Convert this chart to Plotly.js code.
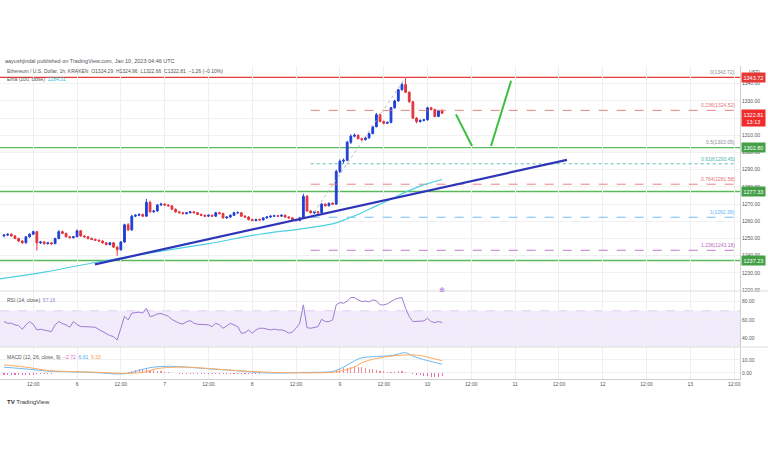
<!DOCTYPE html>
<html><head><meta charset="utf-8">
<script src="https://cdn.plot.ly/plotly-3.0.1.min.js"></script>
<style>html,body{margin:0;padding:0;background:#fff}#chart{width:768px;height:463px}</style>
</head><body><div id="chart"></div>
<script>
// ---- data (hours counted from 2023-01-05 00:00 UTC) ----
const FIRST_HOUR = 4; // first hourly candle: Jan 5 04:00
const openP = [1251.5,1252.0,1252.5,1251.5,1250.0,1248.5,1247.5,1251.0,1252.5,1254.0,
1247.5,1248.0,1247.0,1247.5,1247.0,1250.0,1254.0,1253.0,1251.0,1250.5,
1251.0,1254.5,1251.5,1251.0,1250.0,1249.5,1249.0,1248.5,1247.5,1246.5,
1247.5,1245.0,1243.5,1248.0,1258.0,1255.0,1263.0,1263.5,1264.0,1263.0,
1271.0,1265.5,1266.0,1269.5,1270.0,1269.5,1269.0,1267.0,1265.5,1265.0,
1264.5,1265.0,1265.5,1265.0,1264.0,1263.5,1263.0,1263.5,1263.0,1265.0,
1264.5,1262.0,1262.5,1263.5,1265.0,1265.0,1263.0,1262.5,1261.0,1260.5,
1261.0,1260.8,1262.0,1262.5,1263.0,1263.2,1263.0,1263.5,1262.5,1262.0,
1261.0,1260.5,1262.0,1274.5,1266.0,1265.0,1265.5,1265.0,1270.0,1269.0,
1270.5,1270.0,1289.0,1295.0,1295.5,1306.0,1309.5,1310.0,1308.0,1307.5,
1308.5,1311.0,1315.0,1322.0,1318.0,1317.0,1317.5,1326.0,1330.0,1336.5,
1339.5,1335.0,1329.5,1320.0,1318.0,1318.7,1319.0,1326.0,1325.0,1321.0,1324.29];
const highP = [1252.6,1253.0,1253.1,1252.0,1250.5,1249.2,1251.4,1253.0,1254.6,1254.4,
1248.6,1248.4,1248.0,1248.0,1250.5,1254.8,1254.6,1253.4,1251.6,1251.5,
1255.2,1255.0,1252.0,1251.4,1250.6,1250.0,1249.5,1249.0,1248.0,1248.0,
1248.0,1245.5,1248.5,1258.6,1259.0,1263.8,1264.2,1264.6,1264.5,1273.0,
1272.0,1266.6,1270.0,1270.8,1270.5,1270.0,1269.4,1267.5,1266.0,1265.5,
1265.4,1266.0,1266.0,1265.4,1264.5,1264.0,1264.0,1264.0,1265.5,1265.6,
1265.0,1263.0,1264.0,1265.6,1265.8,1265.4,1263.6,1263.0,1261.5,1261.5,
1261.6,1262.4,1263.0,1263.5,1263.8,1263.6,1264.0,1264.0,1263.0,1262.4,
1261.5,1262.4,1276.0,1275.4,1266.5,1266.0,1266.0,1270.6,1270.5,1271.0,
1271.0,1290.0,1296.0,1296.5,1306.8,1310.5,1311.0,1310.6,1308.6,1309.0,
1311.6,1315.6,1323.0,1322.6,1318.6,1318.0,1326.6,1330.6,1337.0,1340.5,
1343.72,1335.6,1330.0,1320.6,1319.2,1319.6,1326.6,1326.5,1325.5,1324.8,1324.96];
const lowP = [1250.8,1251.4,1251.0,1249.6,1248.0,1247.0,1247.1,1250.5,1252.0,1243.0,
1246.8,1246.5,1246.6,1246.4,1246.8,1249.6,1252.5,1250.6,1250.0,1250.0,
1250.8,1251.0,1250.6,1249.5,1249.0,1248.6,1248.0,1247.0,1246.0,1246.0,
1244.6,1240.0,1243.0,1247.6,1254.5,1254.6,1262.4,1263.0,1262.6,1262.8,
1265.0,1265.0,1265.6,1269.0,1269.0,1268.6,1266.6,1265.0,1264.6,1264.0,
1264.0,1264.6,1264.6,1263.6,1263.0,1262.6,1262.6,1262.5,1262.6,1264.0,
1261.6,1261.5,1262.0,1263.0,1264.4,1262.6,1262.0,1260.6,1260.0,1260.0,
1260.2,1260.5,1261.5,1262.0,1262.6,1262.6,1262.6,1262.0,1261.6,1260.6,
1259.8,1260.0,1261.6,1265.5,1264.5,1264.2,1264.5,1264.8,1268.6,1268.8,
1269.5,1269.6,1288.0,1293.6,1295.0,1305.0,1308.8,1307.6,1306.8,1307.0,
1308.0,1310.6,1314.6,1317.6,1316.4,1316.6,1317.0,1325.5,1329.5,1336.0,
1334.6,1329.0,1319.5,1317.0,1317.4,1318.0,1318.6,1324.4,1320.5,1320.6,1322.66];
const closeP = [1252.0,1252.5,1251.5,1250.0,1248.5,1247.5,1251.0,1252.5,1254.0,1247.5,
1248.0,1247.0,1247.5,1247.0,1250.0,1254.0,1253.0,1251.0,1250.5,1251.0,
1254.5,1251.5,1251.0,1250.0,1249.5,1249.0,1248.5,1247.5,1246.5,1247.5,
1245.0,1243.5,1248.0,1258.0,1255.0,1263.0,1263.5,1264.0,1263.0,1271.0,
1265.5,1266.0,1269.5,1270.0,1269.5,1269.0,1267.0,1265.5,1265.0,1264.5,
1265.0,1265.5,1265.0,1264.0,1263.5,1263.0,1263.5,1263.0,1265.0,1264.5,
1262.0,1262.5,1263.5,1265.0,1265.0,1263.0,1262.5,1261.0,1260.5,1261.0,
1260.8,1262.0,1262.5,1263.0,1263.2,1263.0,1263.5,1262.5,1262.0,1261.0,
1260.5,1262.0,1274.5,1266.0,1265.0,1265.5,1265.0,1270.0,1269.0,1270.5,
1270.0,1289.0,1295.0,1295.5,1306.0,1309.5,1310.0,1308.0,1307.5,1308.5,
1311.0,1315.0,1322.0,1318.0,1317.0,1317.5,1326.0,1330.0,1336.5,1339.5,
1335.0,1329.5,1320.0,1318.0,1318.7,1319.0,1326.0,1325.0,1321.0,1324.29,1322.81];

const rsiVals = [58.2,56.4,56.4,54.6,53.8,49.8,54.6,58.2,55.3,49.1,
49.8,49.1,48.4,47.3,54.6,58.2,56.0,54.6,52.0,58.2,
55.0,52.7,52.7,52.7,52.0,52.0,49.5,47.3,45.5,43.0,
41.8,38.2,50.9,64.0,60.0,67.3,68.0,68.5,67.5,72.7,
63.6,64.5,66.5,67.0,65.5,64.0,60.5,58.2,56.4,55.5,
58.0,59.3,56.4,55.3,55.0,54.6,54.6,52.7,56.4,54.6,
50.9,53.5,56.4,54.6,52.7,45.5,46.0,49.1,45.5,49.1,
50.9,50.9,50.0,49.1,50.0,49.1,49.1,48.0,45.5,47.0,
50.9,56.4,76.4,51.5,50.9,51.6,52.7,60.7,58.2,58.2,
60.0,76.4,78.9,78.2,80.5,84.4,84.4,81.8,80.0,80.5,
79.6,81.8,80.9,76.4,76.4,77.5,80.2,82.4,83.6,84.4,
72.7,63.6,58.2,58.2,58.9,58.9,61.8,58.2,57.1,58.2,57.16];

const macdHist = [-1.8,-1.9,-1.9,-1.8,-1.7,-1.7,-1.6,-1.5,-1.4,-1.3,-1.2,-1.0,-0.8,-0.6,-0.5,-0.4,
-0.3,-0.3,-0.2,-0.2,-0.1,-0.1,-0.1,-0.2,-0.2,-0.3,-0.3,-0.4,-0.5,-0.6,-0.7,-0.9,-0.8,-0.4,
0.3,1.2,2.0,2.6,3.0,2.6,2.4,2.1,1.7,1.3,0.9,0.6,
-0.2,-0.4,-0.6,-0.7,-0.8,-0.8,-0.8,-0.9,-0.9,-1.0,-1.0,-0.9,-0.8,-0.8,-0.9,-0.9,-0.8,-0.8,
-0.9,-1.0,-1.0,-0.9,-0.8,-0.7,-0.6,-0.5,-0.5,-0.4,-0.4,-0.3,-0.3,-0.3,-0.2,-0.2,-0.2,-0.1,
0.4,0.8,0.5,0.4,0.3,0.4,0.4,0.4,0.5,
1.8,2.8,3.4,4.0,4.8,5.2,4.8,4.4,3.8,3.2,2.6,2.0,1.5,1.2,1.0,0.9,1.0,1.1,1.2,
0.6,0.0,-0.8,-1.5,-2.0,-2.4,-2.6,-2.9,-3.1,-3.0,-2.72];

const macdHours = [4,11,16,23,30,35,38,42,45,49,54,59,65,70,75,81,86,90,94,97,100,102,106,110,113,114,116,118,120,124];
const macdVals  = [4.4,2.7,1.3,0.7,0.0,-0.9,-0.4,2.7,4.4,5.1,4.4,3.3,2.2,1.1,0.0,-0.2,0.3,0.4,1.1,4.4,9.3,11.6,12.7,13.3,15.3,15.6,13.0,11.0,9.5,6.61];
const signalHours = [4,11,16,23,30,36,42,46,51,57,63,70,77,83,90,94,97,100,102,106,110,114,117,120,124];
const signalVals  = [6.2,4.0,1.8,0.9,0.4,-0.4,0.4,3.3,4.4,4.0,2.7,1.3,0.4,0.0,0.0,0.4,1.8,4.4,7.8,11.1,12.9,13.8,13.8,12.2,9.33];

const emaHours = [2.9,15,30,45,60,74,85,94,98,102,106,110,114,118,121,124];
const emaVals  = [1226.5,1230.5,1236.5,1242,1247,1252.5,1255.5,1258.5,1261.5,1265,1269,1272.8,1277,1280.5,1282.5,1284.3];

const trendHours = [28.9,158.2];
const trendPrices = [1235.0,1295.7];
const projAHours = [127.8,132.2];
const projAPrices = [1322.2,1303.8];
const projBHours = [137.4,142.9];
const projBPrices = [1303.8,1341.7];

const supportLevels = [1302.80,1277.33,1237.23];
const resistanceLevel = 1343.72;
const lastPrice = 1322.81;

const fibRatios = ['0','0.236','0.5','0.618','0.764','1','1.236'];
const fibPrices = [1343.72,1324.52,1303.05,1293.45,1281.58,1262.38,1243.18];
const fibStartHour = 88, fibEndHour = 204;
const fibLowHour = 88, fibHighHour = 114;

const priceTicks = [1220,1230,1240,1250,1260,1270,1280,1290,1300,1310,1320,1330,1340];
const priceTickText = ['1220.00','1230.00','1240.00','1250.00','1260.00','1270.00','1280.00','1290.00','1300.00','1310.00','','1330.00','1340.00'];
const rsiTicks = [40,60,80];
const macdTicks = [0,10];
const xTickHours = [12,24,36,48,60,72,84,96,108,120,132,144,156,168,180,192,204];
const xTickText = ['12:00','6','12:00','7','12:00','8','12:00','9','12:00','10','12:00','11','12:00','12','12:00','13','12:00'];

// ---- helpers ----
function T(h){ const d = new Date(Date.UTC(2023,0,5) + Math.round(h*3600000)); return d.toISOString().slice(0,19).replace('T',' '); }
const candleX = openP.map((_,i)=>T(FIRST_HOUR+i));
const FONT = 'Liberation Sans, Arial, sans-serif';
const TXT = '#555';

// ---- styles ----
const fibColors = ['#8a8d96','#e57373','#8a8d96','#4db6ac','#e57373','#64b5f6','#ba68c8'];
const fibDash   = ['solid','dash','solid','dot','dash','dash','dash'];
const UP = '#1f3fd6', DOWN = '#e3343c';

const traces = [];
fibPrices.forEach((p,i)=>{
  if (i===0 || i===2) return; // coincide with drawn horizontal lines
  traces.push({x:[T(fibStartHour),T(fibEndHour)], y:[p,p], mode:'lines', yaxis:'y',
    line:{color:fibColors[i], width:0.9, dash:fibDash[i]}, hoverinfo:'skip'});
});
traces.push({x:[T(fibLowHour),T(fibHighHour)], y:[fibPrices[5],fibPrices[0]], mode:'lines', yaxis:'y',
  line:{color:'#b0b3bb', width:0.9, dash:'dot'}, hoverinfo:'skip'});
traces.push({x:emaHours.map(T), y:emaVals, mode:'lines', yaxis:'y', line:{color:'#4dd0e1', width:1.2, shape:'spline'}, hoverinfo:'skip'});
traces.push({x:trendHours.map(T), y:trendPrices, mode:'lines', yaxis:'y', line:{color:'#2e35b8', width:2.2}, hoverinfo:'skip'});
traces.push({type:'candlestick', x:candleX, open:openP, high:highP, low:lowP, close:closeP, yaxis:'y',
  increasing:{line:{color:UP,width:1}, fillcolor:UP}, decreasing:{line:{color:DOWN,width:1}, fillcolor:DOWN},
  whiskerwidth:0, hoverinfo:'skip'});
traces.push({x:projAHours.map(T), y:projAPrices, mode:'lines', yaxis:'y', line:{color:'#3cc03c', width:2}, hoverinfo:'skip'});
traces.push({x:projBHours.map(T), y:projBPrices, mode:'lines', yaxis:'y', line:{color:'#3cc03c', width:2}, hoverinfo:'skip'});
traces.push({x:candleX, y:rsiVals, mode:'lines', yaxis:'y2', line:{color:'#9c7ccf', width:1}, hoverinfo:'skip'});
traces.push({type:'bar', x:candleX, y:macdHist, yaxis:'y3', width:1100000,
  marker:{color:macdHist.map(v=>v>=0?'#f08a97':'#e370b8')}, hoverinfo:'skip'});
traces.push({x:macdHours.map(T), y:macdVals, mode:'lines', yaxis:'y3', line:{color:'#6fb8f0', width:1, shape:'spline'}, hoverinfo:'skip'});
traces.push({x:signalHours.map(T), y:signalVals, mode:'lines', yaxis:'y3', line:{color:'#ffab5e', width:1, shape:'spline'}, hoverinfo:'skip'});

// ---- layout geometry ----
const PW = 740, TOP = 66, BOT = 379, PH = BOT-TOP;
const yp = py => (BOT-py)/PH;
const xp = px => px/PW;
const D_MAIN = [yp(291), 1], D_RSI = [yp(347), yp(291)], D_MACD = [0, yp(347)];

const shapes = [];
supportLevels.forEach(p=>shapes.push({type:'line', xref:'paper', x0:0, x1:1, yref:'y', y0:p, y1:p, line:{color:'#5cb85c', width:1.3}, layer:'below'}));
shapes.push({type:'line', xref:'paper', x0:0, x1:1, yref:'y', y0:resistanceLevel, y1:resistanceLevel, line:{color:'#e53935', width:1.3}, layer:'below'});
shapes.push({type:'rect', xref:'paper', x0:0, x1:1, yref:'y2', y0:30, y1:70, fillcolor:'rgba(156,100,230,0.13)', line:{width:0}, layer:'below'});
[30,70].forEach(v=>shapes.push({type:'line', xref:'paper', x0:0, x1:1, yref:'y2', y0:v, y1:v, line:{color:'#d9c8ef', width:0.8, dash:'dash'}, layer:'below'}));
[D_MAIN[0], D_RSI[0]].forEach(v=>shapes.push({type:'line', xref:'paper', x0:0, x1:768/PW, yref:'paper', y0:v, y1:v, line:{color:'#dcdcdc', width:1}}));

const ann = [];
const A = (o)=>ann.push(Object.assign({showarrow:false, font:{family:FONT, size:5, color:TXT}}, o));
A({xref:'paper', yref:'paper', x:xp(3), y:yp(61), xanchor:'left', yanchor:'middle', font:{family:FONT,size:5.5,color:TXT},
  text:'aayushjindal published on TradingView.com, Jan 10, 2023 04:46 UTC'});
A({xref:'paper', yref:'paper', x:xp(5), y:yp(71), xanchor:'left', yanchor:'middle',
  text:'Ethereum / U.S. Dollar, 1h, KRAKEN  O1324.29  H1324.96  L1322.66  C1322.81  −1.26 (−0.10%)'});
A({xref:'paper', yref:'paper', x:xp(5), y:yp(78.5), xanchor:'left', yanchor:'middle',
  text:'Ema (100, close)  <span style="color:#26c6da">1284.31</span>'});
A({xref:'paper', yref:'paper', x:xp(5), y:yp(300), xanchor:'left', yanchor:'middle',
  text:'RSI (14, close)  <span style="color:#9c7ccf">57.16</span>'});
A({xref:'paper', yref:'paper', x:xp(5), y:yp(357), xanchor:'left', yanchor:'middle',
  text:'MACD (12, 26, close, 9)  <span style="color:#e370b8">−2.72</span>  <span style="color:#4aa8ee">6.61</span>  <span style="color:#ff9a40">9.33</span>'});
A({xref:'paper', yref:'paper', x:xp(5), y:yp(402), xanchor:'left', yanchor:'middle', font:{family:FONT,size:6,color:'#333'},
  text:'<b>TV</b> TradingView'});
A({xref:'paper', yref:'paper', x:xp(747), y:yp(72), xanchor:'left', yanchor:'middle', text:'USD'});
A({xref:'paper', yref:'paper', x:xp(442), y:yp(289), xanchor:'center', yanchor:'middle', font:{family:FONT,size:7,color:'#9c6fd6'}, text:'⊕'});
fibPrices.forEach((p,i)=>A({xref:'paper', yref:'y', x:xp(737), y:p, xanchor:'right', yanchor:'bottom',
  font:{family:FONT,size:5,color:fibColors[i]}, text:fibRatios[i]+'('+p.toFixed(2)+')'}));
const box = (p,color,text,extra)=>A(Object.assign({xref:'paper', yref:'y', x:xp(741), y:p, xanchor:'left', yanchor:'middle',
  bgcolor:color, borderpad:1.5, font:{family:FONT,size:5.5,color:'#fff'}, text:text}, extra||{}));
box(resistanceLevel,'#e53935',resistanceLevel.toFixed(2));
box(lastPrice,'#ef2b2b',lastPrice.toFixed(2)+'<br>13:13',{yanchor:'top', yshift:4});
supportLevels.forEach(p=>box(p,'#43a047',p.toFixed(2)));

const axisBase = {side:'right', showline:true, linecolor:'#d0d0d0', linewidth:1, ticks:'', zeroline:false,
  gridcolor:'#f1f1f1', tickfont:{family:FONT, size:5, color:TXT}, fixedrange:true};

const layout = {
  width:768, height:463, showlegend:false,
  paper_bgcolor:'#fff', plot_bgcolor:'#fff',
  margin:{l:0, r:768-PW, t:TOP, b:463-BOT},
  xaxis:{type:'date', range:[T(2.9),T(205.6)], anchor:'y3', domain:[0,1], rangeslider:{visible:false},
    tickvals:xTickHours.map(T), ticktext:xTickText, showgrid:true, gridcolor:'#efefef', ticks:'',
    tickfont:{family:FONT,size:5,color:TXT}, showline:true, linecolor:'#d0d0d0', zeroline:false, fixedrange:true},
  yaxis:Object.assign({}, axisBase, {domain:D_MAIN, range:[1219.5,1350.3], tickvals:priceTicks, ticktext:priceTickText}),
  yaxis2:Object.assign({}, axisBase, {domain:D_RSI, range:[30.5,91.5], tickvals:rsiTicks, ticktext:rsiTicks.map(v=>v.toFixed(2))}),
  yaxis3:Object.assign({}, axisBase, {domain:D_MACD, range:[-4.8,20], tickvals:macdTicks, ticktext:macdTicks.map(v=>v.toFixed(2))}),
  shapes:shapes, annotations:ann, bargap:0
};
Plotly.newPlot('chart', traces, layout, {staticPlot:true, displayModeBar:false});
</script></body></html>
